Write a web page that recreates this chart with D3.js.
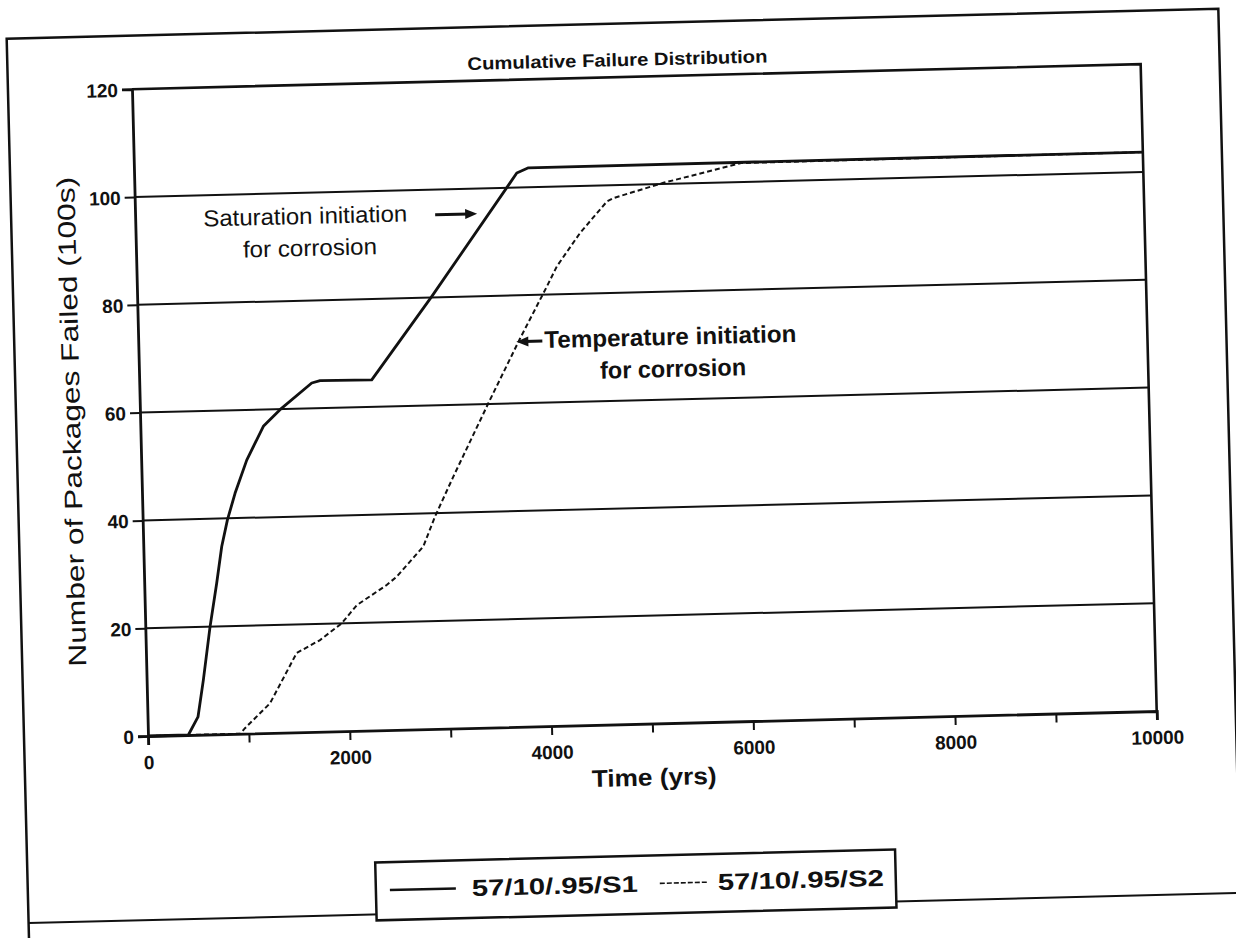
<!DOCTYPE html>
<html>
<head>
<meta charset="utf-8">
<script src="https://cdn.jsdelivr.net/npm/d3@7"></script>
<style>
  html, body { margin: 0; padding: 0; background: #fff; }
  svg { display: block; }
  text { fill: #111; }
</style>
</head>
<body>
<svg id="chart" width="1236" height="938"></svg>
<script>
// Cumulative failure distribution: time (yrs) vs packages failed (100s)
const timeTicks = [0, 2000, 4000, 6000, 8000, 10000];
const minorTimeTicks = [0, 1000, 2000, 3000, 4000, 5000, 6000, 7000, 8000, 9000, 10000];
const countTicks = [0, 20, 40, 60, 80, 100, 120];

const seriesNames = ["57/10/.95/S1", "57/10/.95/S2"];

// Saturation initiation for corrosion
const s1Time  = [0, 400, 500, 562, 641, 718, 777, 840, 922, 1046, 1219, 1388, 1709, 1792, 2304, 2389, 2920, 3723, 3792, 3909, 10000];
const s1Count = [0, 0, 3.3, 10.1, 19.9, 28.0, 34.8, 39.7, 44.6, 50.7, 56.9, 59.9, 64.7, 65.1, 65.0, 67.1, 80.2, 100.9, 102.7, 103.6, 103.7];

// Temperature initiation for corrosion
const s2Time  = [0, 915, 963, 1217, 1493, 1728, 1947, 2101, 2402, 2503, 2775, 2898, 3089, 3472, 3784, 4062, 4166, 4405, 4678, 4743, 5243, 6017, 10000];
const s2Count = [0, 0, 1.0, 5.5, 14.7, 17.0, 20.0, 23.3, 26.9, 28.4, 33.9, 39.4, 46.7, 60.8, 72.0, 81.5, 85.2, 91.3, 97.0, 97.6, 100.2, 103.5, 103.7];

const svg = d3.select("#chart");
const ink = "#111";
const narrow = "'Liberation Sans Narrow','Arial Narrow','Liberation Sans',Arial,sans-serif";
const plain = "'Liberation Sans',Arial,Helvetica,sans-serif";

const plotLeft = 148, plotRight = 1157, plotTop = 89, plotBottom = 736;
const x = d3.scaleLinear().domain([0, 10000]).range([plotLeft, plotRight]);
const y = d3.scaleLinear().domain([0, 120]).range([plotBottom, plotTop]);

// whole page is slightly tilted
const page = svg.append("g").attr("transform", `rotate(-1.42, ${plotLeft}, ${plotBottom})`);

// outer figure frame (its bottom edge runs behind the legend box)
const frame = page.append("g").attr("stroke", ink).attr("stroke-width", 2.5).attr("fill", "none");
frame.append("path").attr("d", "M24,990 L24,35.5 L1236,35.5 L1236,990");
frame.append("line").attr("x1", 24).attr("x2", 1300).attr("y1", 920).attr("y2", 920).attr("stroke-width", 2);

function fitText(sel, width) {
  sel.attr("textLength", width).attr("lengthAdjust", "spacingAndGlyphs");
  return sel;
}

// title
fitText(page.append("text")
  .attr("x", 634).attr("y", 78)
  .attr("text-anchor", "middle")
  .attr("font-family", narrow).attr("font-weight", "bold").attr("font-size", 18)
  .text("Cumulative Failure Distribution"), 300);

// horizontal gridlines
page.append("g").selectAll("line")
  .data(countTicks.filter(d => d > 0 && d < 120))
  .join("line")
  .attr("x1", plotLeft).attr("x2", plotRight)
  .attr("y1", d => y(d)).attr("y2", d => y(d))
  .attr("stroke", ink).attr("stroke-width", 2);

// plot border (top and right)
page.append("path")
  .attr("d", `M${plotLeft},${y(120)} L${plotRight},${y(120)} L${plotRight},${plotBottom}`)
  .attr("fill", "none").attr("stroke", ink).attr("stroke-width", 2.6);

// axes
const xAxis = page.append("g")
  .attr("transform", `translate(0,${plotBottom})`)
  .call(d3.axisBottom(x).tickValues(minorTimeTicks)
    .tickFormat(d => timeTicks.includes(d) ? d : "")
    .tickSize(9).tickPadding(7));
const yAxis = page.append("g")
  .attr("transform", `translate(${plotLeft},0)`)
  .call(d3.axisLeft(y).tickValues(countTicks).tickSize(10).tickPadding(4));

[xAxis, yAxis].forEach(g => {
  g.select(".domain").attr("stroke", ink).attr("stroke-width", 2.8);
  g.selectAll(".tick line").attr("stroke", ink).attr("stroke-width", 2);
  g.selectAll(".tick text")
    .attr("fill", ink)
    .attr("font-family", narrow).attr("font-weight", "bold").attr("font-size", 19);
});
xAxis.selectAll(".tick text").attr("dy", "0.9em");
yAxis.selectAll(".tick text").attr("dy", "0.36em");

// axis titles
fitText(page.append("text")
  .attr("x", 653).attr("y", 798)
  .attr("text-anchor", "middle")
  .attr("font-family", narrow).attr("font-weight", "bold").attr("font-size", 24)
  .text("Time (yrs)"), 125);

fitText(page.append("text")
  .attr("transform", "translate(88,420) rotate(-90)")
  .attr("text-anchor", "middle")
  .attr("font-family", plain).attr("font-size", 25)
  .text("Number of Packages Failed (100s)"), 490);

// series
const line = d3.line().x(d => x(d[0])).y(d => y(d[1]));
const s1 = s1Time.map((t, i) => [t, s1Count[i]]);
const s2 = s2Time.map((t, i) => [t, s2Count[i]]);

page.append("path").datum(s1)
  .attr("d", line).attr("fill", "none")
  .attr("stroke", ink).attr("stroke-width", 2.8).attr("stroke-linejoin", "round");
page.append("path").datum(s2)
  .attr("d", line).attr("fill", "none")
  .attr("stroke", ink).attr("stroke-width", 2).attr("stroke-dasharray", "5,3");

// annotations
function arrow(g, x1, y1, x2, y2) {
  const a = Math.atan2(y2 - y1, x2 - x1);
  g.append("line").attr("x1", x1).attr("y1", y1).attr("x2", x2 - 8 * Math.cos(a)).attr("y2", y2 - 8 * Math.sin(a))
    .attr("stroke", ink).attr("stroke-width", 3);
  const hx = x2, hy = y2, s = 12, w = 5;
  const p = [
    [hx, hy],
    [hx - s * Math.cos(a) + w * Math.sin(a), hy - s * Math.sin(a) - w * Math.cos(a)],
    [hx - s * Math.cos(a) - w * Math.sin(a), hy - s * Math.sin(a) + w * Math.cos(a)]
  ];
  g.append("polygon").attr("points", p.map(d => d.join(",")).join(" ")).attr("fill", ink);
}

const notes = page.append("g");
fitText(notes.append("text").attr("x", 318).attr("y", 228).attr("text-anchor", "middle")
  .attr("font-family", plain).attr("font-size", 23).text("Saturation initiation"), 204);
fitText(notes.append("text").attr("x", 322).attr("y", 260).attr("text-anchor", "middle")
  .attr("font-family", plain).attr("font-size", 23).text("for corrosion"), 134);
arrow(notes, 448, 222, 490, 222);

fitText(notes.append("text").attr("x", 680).attr("y", 358).attr("text-anchor", "middle")
  .attr("font-family", narrow).attr("font-weight", "bold").attr("font-size", 24).text("Temperature initiation"), 252);
fitText(notes.append("text").attr("x", 682).attr("y", 390).attr("text-anchor", "middle")
  .attr("font-family", narrow).attr("font-weight", "bold").attr("font-size", 24).text("for corrosion"), 146);
arrow(notes, 552, 351, 526, 351);

// legend
const legend = page.append("g");
legend.append("rect").attr("x", 372).attr("y", 868).attr("width", 520).attr("height", 58)
  .attr("fill", "#fff").attr("stroke", ink).attr("stroke-width", 2.5);
const items = [
  { name: seriesNames[0], x0: 386, x1: 452, tx: 468, dash: null, w: 2.5 },
  { name: seriesNames[1], x0: 656, x1: 705, tx: 714, dash: "5,2", w: 1.6 }
];
items.forEach(it => {
  legend.append("line").attr("x1", it.x0).attr("x2", it.x1).attr("y1", 896).attr("y2", 896)
    .attr("stroke", ink).attr("stroke-width", it.w).attr("stroke-dasharray", it.dash);
  fitText(legend.append("text").attr("x", it.tx).attr("y", 904)
    .attr("font-family", plain).attr("font-weight", "bold").attr("font-size", 23).text(it.name), 166);
});
</script>
</body>
</html>
